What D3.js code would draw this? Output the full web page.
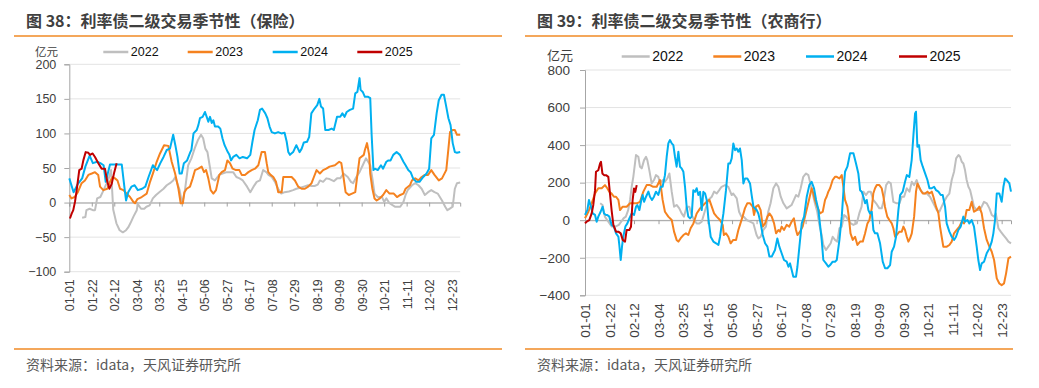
<!DOCTYPE html>
<html>
<head>
<meta charset="utf-8">
<script src="https://cdn.jsdelivr.net/npm/d3@7"></script>
<style>
body { margin: 0; background: #fff; }
svg text { font-family: "Liberation Sans", Arial, "Noto Sans CJK SC", sans-serif; }
</style>
</head>
<body>
<svg id="chart" width="1039" height="388"></svg>
<script>
// x axis: day of year (leap-year calendar), labels every 21 days
var dateLabels = ["01-01","01-22","02-12","03-04","03-25","04-15","05-06","05-27","06-17",
                  "07-08","07-29","08-19","09-09","09-30","10-21","11-11","12-02","12-23"];
var labelDays = [0,21,42,63,84,105,126,147,168,189,210,231,252,273,294,315,336,357];
var years = ["2022","2023","2024","2025"];

// 保险 (亿元), [day, value]
var ins2022 = [[12,-22],[15,-21],[16,-11],[19,-9],[22,-11],[24,-11],[26,6],[29,8],[32,18],[34,25],[36,30],[39,47],[41,-10],[44,-30],[47,-40],[50,-43],[53,-40],[55,-36],[57,-30],[60,-20],[63,-11],[64,-2],[67,-9],[70,-9],[72,-6],[75,-4],[78,6],[81,11],[84,15],[88,20],[91,25],[94,28],[97,32],[99,37],[100,32],[103,18],[105,1],[106,3],[108,18],[111,54],[114,64],[117,78],[120,90],[123,98],[125,93],[127,78],[129,73],[131,54],[133,35],[136,32],[140,40],[143,42],[147,44],[150,44],[153,44],[156,37],[159,35],[162,32],[166,23],[169,15],[172,23],[175,30],[178,32],[181,47],[184,44],[186,40],[189,37],[192,30],[195,20],[198,13],[201,15],[205,16],[209,18],[212,20],[215,21],[219,23],[223,25],[226,24],[229,24],[232,26],[234,32],[237,30],[240,35],[243,34],[247,31],[250,35],[253,35],[256,42],[260,37],[263,30],[265,28],[268,37],[271,44],[274,54],[277,64],[279,59],[281,54],[283,35],[285,13],[288,8],[292,8],[294,1],[296,6],[299,-1],[304,-6],[309,-6],[312,1],[314,11],[316,18],[320,25],[323,28],[326,25],[329,20],[332,11],[335,15],[338,18],[341,15],[344,13],[348,3],[351,-6],[353,-11],[355,-9],[358,-6],[360,20],[362,28],[365,29]];
var ins2023 = [[0,11],[2,6],[5,8],[8,15],[11.5,28],[14.6,32],[17.8,40],[21,42],[24,44],[27,40],[28.7,23],[31.8,18],[35.5,20],[38,30],[40.5,37],[42.7,35],[45,32],[47.4,20],[50.5,18],[53.6,13],[56.7,8],[59.8,1],[61.4,-1],[63.6,5],[67.6,8],[72.3,13],[75.4,30],[78.5,44],[81.6,59],[84.7,71],[88.5,83],[92.5,82],[95.6,59],[98.8,42],[101.9,20],[104,-1],[106,-1],[107.5,15],[109.6,20],[112.7,23],[115.2,35],[117.4,47],[120.5,49],[123.6,52],[125.8,44],[127.7,47],[129.8,35],[132,18],[134.5,13],[137,18],[140.1,40],[142.3,44],[145.4,47],[147.6,61],[150,57],[152.5,49],[155.6,47],[158.8,47],[161,40],[164,40],[167.2,44],[170.3,47],[173.4,49],[176.5,54],[179.6,73],[182.7,73],[184.3,57],[185.8,44],[188,40],[190.5,37],[193,30],[195.1,15],[198.3,15],[199.8,37],[202.9,37],[207.6,37],[210.7,32],[213.8,23],[216.9,20],[220,20],[223.1,23],[226.2,28],[228.4,37],[230.9,47],[234,42],[237,47],[240,49],[243,52],[248,54],[252,59],[254,57],[256,37],[258,15],[261,11],[264,13],[267,15],[269,40],[271,64],[275,69],[276,76],[278,86],[280,69],[281,42],[283,20],[285,6],[287,3],[290,6],[293,11],[296,18],[299,13],[303,13],[306,8],[309,11],[312,13],[314,20],[318,25],[320,32],[323,35],[326,32],[329,37],[332,40],[335,40],[338,47],[341,40],[345,32],[348,35],[351,44],[352,47],[354,78],[355.5,102],[358,105],[360,105],[362,98],[365,98]];
var ins2024 = [[0,35],[4,15],[8,27],[12,35],[15,52],[19,68],[22,57],[26,59],[29,57],[32,54],[34,30],[38,55],[49,55],[52,15],[53,3],[55,15],[58,23],[61,25],[64,18],[68,20],[71,23],[74,37],[78,54],[82,47],[85,57],[88,66],[91,76],[94,78],[97,98],[99,83],[101,66],[103,42],[105,42],[107,57],[110,61],[113,73],[114,76],[116,100],[119,105],[120.5,112],[122,122],[124.5,124],[126.7,131],[128.3,124],[129.8,117],[131.4,124],[133,115],[134.5,119],[136,110],[139,110],[141,107],[143,93],[145,83],[148,73],[149.5,69],[151,61],[153,66],[156,69],[159,64],[162,66],[166,64],[169,69],[171,88],[173,105],[176,119],[178,134],[180,136],[183,129],[185,122],[187,110],[189,102],[192,100],[195,102],[198,100],[201,101],[203,88],[204.5,73],[206,69],[209,73],[212,83],[215,73],[217,78],[219,87],[222,88],[224,95],[226,129],[229,136],[231.5,141],[233.5,150],[235,139],[237,136],[239,105],[242,105],[245,107],[247,105],[250,124],[253,124],[255,129],[257,124],[259,131],[262,134],[265,136],[267,158],[269,160],[271,180],[272,163],[274,160],[276,153],[279,153],[281,151],[282.3,98],[284,47],[285.4,49],[288,47],[291,54],[293,49],[296,59],[298,61],[300,61],[302.5,69],[305.6,73],[308.7,69],[312,59],[314,54],[316.5,47],[318.7,44],[321,35],[324,30],[327,30],[330.5,37],[333.6,42],[336,49],[338,93],[340.5,98],[343,129],[345,148],[347.6,156],[349.8,156],[351.7,141],[354,122],[356,112],[358,86],[360,73],[362,72],[365,73]];
var ins2025 = [[0.6,-23],[2.2,-16],[3.7,-11],[5.3,1],[6.9,18],[9.3,47],[11.5,49],[13.1,61],[15.3,73],[17.8,72],[19.3,69],[21.8,71],[24,66],[27.1,57],[30.2,49],[33.3,49],[35.5,30],[37.4,20],[39.6,27],[42,44],[44.2,57]];

// 农商行 (亿元), [day, value]
var rc2022 = [[13,90],[15,81],[17,19],[20,-8],[23,-34],[26,-34],[29,-25],[31,-8],[33,10],[35,19],[37,54],[38.6,108],[40,178],[41.4,231],[43.7,347],[45.7,338],[47.1,285],[48.6,276],[50.6,320],[52.3,338],[53.4,320],[55.1,267],[57.1,196],[59.1,214],[60.8,240],[62.8,231],[64.3,196],[66.5,214],[68.5,205],[70.5,222],[72.3,249],[74.3,152],[76.3,72],[78.5,81],[80.8,63],[82.8,36],[84.8,19],[87.1,72],[89.4,72],[91.4,28],[93.4,1],[95.7,-17],[98,-17],[100,-8],[103,54],[105.7,108],[108.6,125],[110.6,152],[112.8,142],[115,160],[117,178],[120,187],[122.8,178],[125.7,134],[127,142],[130,116],[132,45],[134,19],[136,19],[138.5,1],[141.4,-8],[144.3,-17],[147,-79],[148.5,-97],[150.5,-88],[152.8,-52],[155,-34],[157,45],[159,90],[161.4,170],[163.7,196],[165.7,178],[167.7,125],[170,90],[172.8,63],[175,72],[177,81],[179,108],[180.8,134],[182.8,125],[184.8,170],[187,231],[189.4,249],[191.4,240],[193.4,187],[195,142],[197,90],[199,45],[200.8,-25],[202.8,-79],[204.2,-132],[206.5,-159],[208.5,-141],[210.5,-123],[212.2,-88],[214.2,-105],[216.2,-114],[218,-43],[220,-34],[222,28],[223.7,19],[225.7,1],[227.7,-17],[230,-25],[232.8,-17],[235,36],[237,72],[238.5,152],[240.8,134],[242.8,152],[244.8,152],[247,108],[249.4,90],[252.2,63],[254.2,63],[255.7,98],[258,187],[260,205],[262,196],[264.2,98],[267.1,90],[269.4,90],[271.4,125],[273.4,125],[275.7,170],[278,152],[280,205],[282,187],[284.2,214],[286.5,170],[288.5,152],[290.5,142],[292.8,142],[295.6,125],[298.5,90],[301.4,54],[303.6,45],[305.6,72],[307.6,98],[310,125],[312.2,142],[314.2,214],[316.2,258],[318,329],[320,347],[321.4,338],[322.8,311],[324.2,302],[325.6,267],[327,214],[328.5,178],[330,160],[331.3,125],[333.3,72],[335.6,54],[337.9,54],[339.9,72],[341.9,98],[344.2,90],[346.5,63],[348.5,28],[350.5,19],[352,36],[354.2,-43],[356.2,-61],[358.5,-79],[360.8,-97],[362.8,-114],[365,-123]];
var rc2023 = [[0,10],[2.9,45],[5.7,90],[8.6,142],[11.4,170],[14.3,170],[17.1,187],[19.1,170],[20.8,152],[22.8,142],[24.8,125],[26.6,125],[28.6,108],[30,54],[32.3,72],[35.7,72],[38.6,90],[41.4,90],[44.3,90],[47.1,98],[50,152],[52.8,187],[55.7,187],[58.5,178],[61.4,178],[64.3,214],[66.5,108],[68.5,45],[71.4,19],[74.3,1],[76.3,-61],[78.5,-105],[80,-114],[82,-96],[84.3,-79],[86.5,-70],[88.5,-79],[90.5,-43],[92.9,-17],[95.7,36],[98.6,63],[101.4,81],[104.3,98],[106.6,108],[108.6,72],[110.6,36],[112.8,19],[115.7,1],[118,-25],[119,-79],[120.8,-70],[122.8,-88],[124.8,-123],[127,-105],[129.4,-105],[131.4,-52],[132.8,-25],[135,19],[137,63],[139,90],[141.4,90],[143.7,72],[144.8,28],[146.5,72],[148.5,81],[150.5,54],[152.3,-34],[154.3,-17],[156.3,19],[158,36],[160,19],[162,-17],[163.7,-70],[165.7,-52],[167,-61],[168.5,-34],[170.5,-52],[172.8,-25],[175,-34],[177,-8],[179,10],[180.8,-52],[182,-79],[184.2,-61],[186.5,-34],[188.5,19],[190.5,72],[192.2,116],[194.2,170],[195.7,142],[197,108],[199,72],[201.4,36],[203.7,45],[205.7,108],[207,125],[208.5,152],[210,170],[212.2,214],[214.2,231],[215.7,231],[218,222],[220,240],[221.4,178],[222.8,108],[224.8,72],[226,19],[227.5,-70],[229.4,-105],[231.4,-88],[233.4,-132],[235.7,-114],[238,-114],[240,-70],[242,-17],[243.7,1],[245.7,63],[247,142],[248.5,170],[250,187],[252.2,187],[254.2,170],[255.7,125],[257,72],[259,19],[260.8,1],[262.8,-17],[264.2,-43],[265.7,-88],[267,-79],[269.4,-61],[271.4,-61],[272.8,-34],[274.2,-52],[275.7,-88],[277.1,-114],[278.5,-97],[280,-70],[282,19],[283.6,152],[284.8,196],[286.2,178],[287.6,160],[289.4,142],[291.4,142],[293.4,152],[295.1,142],[297.1,152],[298.5,125],[300.8,72],[302.8,36],[304.2,-34],[305.6,-88],[307,-141],[310,-141],[312.2,-132],[314.2,-114],[316.2,-70],[318.5,-52],[320.8,-34],[322.8,-8],[324.8,-17],[327,54],[329.3,54],[331.3,98],[333.3,45],[335.6,54],[337.9,72],[339.9,36],[341.9,-43],[344.2,-105],[346.5,-141],[348.5,-168],[350.5,-212],[352.8,-310],[355,-337],[357,-346],[359,-337],[360.8,-283],[362.8,-203],[365,-194]];
var rc2024 = [[0,28],[2,54],[3.4,108],[5.1,72],[6.6,36],[8.6,28],[10,-8],[11.4,19],[13.4,45],[15.1,72],[16.3,36],[18,28],[19.1,28],[20.8,19],[22.8,-25],[24.8,-34],[26.6,-70],[28.6,-88],[29.4,-132],[30.6,-212],[31.7,-141],[32.8,-88],[34.6,-34],[36.3,-17],[38,10],[40,36],[42,28],[43.7,72],[44.8,81],[46.6,54],[48.3,108],[49.4,134],[50.6,98],[52.3,125],[54.3,152],[55.7,125],[57.4,108],[59.1,125],[60.8,152],[62.8,134],[64.8,178],[66.5,178],[68.5,240],[70,338],[71.4,409],[72.8,427],[74.3,409],[75.7,400],[77.1,338],[78.5,285],[80,365],[81.4,285],[82.8,276],[84.3,258],[85.7,178],[87.1,72],[88.5,19],[90,10],[91.4,19],[92.8,160],[94.3,151],[95.7,170],[97.1,134],[98.6,151],[100,54],[101.4,151],[102.9,142],[104.3,108],[105.7,10],[107.7,-88],[110,-114],[112.3,-123],[114.3,-132],[115.7,-88],[117.1,-25],[118.6,36],[120.8,160],[122.8,302],[124.3,302],[125.7,329],[127.1,409],[128.6,373],[130,382],[131.4,365],[132.8,382],[134.3,320],[135.7,196],[137.1,222],[139.1,222],[141.4,196],[142.8,134],[144.3,72],[147.1,54],[148.5,36],[150.5,-17],[152.3,-79],[154.3,-123],[156.3,-141],[158,-194],[160,-194],[161.4,-176],[162.8,-159],[164.8,-97],[166.5,-141],[168.5,-176],[170.5,-212],[172.8,-221],[174.3,-248],[175.7,-230],[177.1,-265],[178.5,-301],[180.8,-301],[182,-248],[183.7,-141],[185.7,-17],[187.7,19],[190,125],[192.2,187],[194.2,205],[196.2,170],[198,108],[200,54],[201.4,-25],[202.8,-105],[204.2,-212],[206.5,-230],[208.5,-248],[210,-239],[212.2,-221],[214.2,-221],[215.7,-212],[218,-105],[220,19],[221.4,152],[222.8,258],[224.8,285],[227.1,356],[230,356],[232.2,302],[234.2,249],[235.7,160],[237.1,152],[238.5,125],[240,90],[241.4,108],[242.8,54],[244.2,36],[245.7,45],[247.1,-52],[248.5,-70],[250.5,-70],[252.8,-123],[255.1,-221],[257.1,-256],[259.1,-256],[261.4,-239],[262.8,-168],[264.8,-141],[266.5,-88],[268.5,54],[270,134],[272.2,152],[274.2,205],[275.7,240],[277.9,231],[279.9,320],[281.4,453],[282.8,569],[283.6,578],[284.8,391],[286.2,400],[287.6,320],[289.4,285],[291.4,249],[293.4,214],[295.1,170],[297.1,170],[299.1,178],[300.8,160],[302.8,152],[304.8,134],[306.5,134],[308.5,72],[309.9,-17],[312.2,-61],[314.2,-88],[316.2,-105],[317.9,-88],[319.9,-52],[321.9,-34],[324.2,19],[325.6,-8],[327.6,1],[329.3,-17],[331.3,1],[333.3,-34],[335.6,-141],[337,-212],[338.5,-265],[339.9,-230],[341.9,-221],[344.2,-176],[346.5,-150],[348.5,-114],[349.9,-70],[351.3,1],[352.8,142],[355,142],[357,98],[358.5,178],[359.9,222],[361.3,214],[363.6,196],[365,152]];
var rc2025 = [[0,-17],[1.4,-8],[3.7,0],[5.7,36],[7.1,81],[8.6,160],[9.4,258],[11.4,266],[12.9,302],[13.7,311],[14.9,249],[16.3,240],[18,240],[20,231],[21.4,142],[22.8,53],[24.3,-25],[26.6,-61],[28.6,-61],[30.6,-70],[32.3,-105],[34.3,-114],[35.7,-52],[38,-52],[39.4,-35],[40.8,107],[42,169],[43.1,151],[44.3,187]];

var colors = ["#bfbfbf", "#f5821f", "#00b0f0", "#c00000"];
var svg = d3.select("#chart");
svg.append("rect").attr("width", 1039).attr("height", 388).attr("fill", "#fff");

function drawPanel(p) {
    var g = svg.append("g");

    // header / footer
    g.append("text").attr("x", p.titleX).attr("y", 27)
        .style("font-family", "'Noto Sans CJK SC', sans-serif").style("font-weight", "bold")
        .style("font-size", "16px").attr("fill", "#404040").text(p.title);
    g.append("line").attr("x1", p.x0).attr("x2", p.x1).attr("y1", 36).attr("y2", 36)
        .attr("stroke", "#f08a24").attr("stroke-width", 1.5);
    g.append("line").attr("x1", p.x0).attr("x2", p.x1).attr("y1", 349).attr("y2", 349)
        .attr("stroke", "#f08a24").attr("stroke-width", 1.5);
    g.append("text").attr("x", p.titleX).attr("y", 370)
        .style("font-family", "'Noto Sans CJK SC', sans-serif")
        .style("font-size", "14px").attr("fill", "#595959").text("资料来源：idata，天风证券研究所");

    var x = d3.scaleLinear().domain([0, 365]).range([p.left, p.right]);
    var y = d3.scaleLinear().domain(p.yDomain).range([p.bottom, p.top]);

    // gridlines
    g.selectAll(".grid").data(p.yTicks).enter().append("line")
        .attr("x1", p.left).attr("x2", p.right)
        .attr("y1", function (d) { return y(d); }).attr("y2", function (d) { return y(d); })
        .attr("stroke", "#e3e3e3").attr("stroke-width", 1);

    // y axis
    var yAxis = d3.axisLeft(y).tickValues(p.yTicks).tickSize(5).tickPadding(p.yPad);
    var ya = g.append("g").attr("transform", "translate(" + p.left + ",0)").call(yAxis);
    ya.select(".domain").attr("stroke", "#a6a6a6");
    ya.selectAll(".tick line").attr("stroke", "#a6a6a6");
    ya.selectAll("text").style("font-size", p.font + "px").attr("fill", "#404040");

    // zero line with ticks
    var xAxis0 = d3.axisBottom(x).tickValues(labelDays).tickSize(4).tickFormat("");
    var xa = g.append("g").attr("transform", "translate(0," + y(0) + ")").call(xAxis0);
    xa.select(".domain").attr("stroke", "#a0a0a0");
    xa.selectAll(".tick line").attr("stroke", "#a0a0a0");

    // rotated date labels under the plot
    var xAxisB = d3.axisBottom(x).tickValues(labelDays).tickSize(0)
        .tickFormat(function (d, i) { return dateLabels[i]; });
    var xb = g.append("g").attr("transform", "translate(0," + p.bottom + ")").call(xAxisB);
    xb.select(".domain").remove();
    xb.selectAll("text").attr("transform", "rotate(-90)").attr("x", -p.xPad).attr("y", 0)
        .attr("dy", "0.35em").style("text-anchor", "end")
        .style("font-size", p.font + "px").attr("fill", "#404040");

    // unit
    g.append("text").attr("x", p.unitX).attr("y", p.unitY).attr("dy", "0.35em")
        .style("font-family", "'Noto Sans CJK SC', sans-serif")
        .style("font-size", p.unitFont + "px").attr("fill", "#404040").text("亿元");

    // series
    var line = d3.line().x(function (d) { return x(d[0]); }).y(function (d) { return y(d[1]); });
    p.series.forEach(function (s, i) {
        g.append("path").datum(s).attr("d", line).attr("fill", "none")
            .attr("stroke", colors[i]).attr("stroke-width", 2).attr("stroke-linejoin", "round");
    });

    // legend
    years.forEach(function (yr, i) {
        var lx = p.legendX[i];
        g.append("line").attr("x1", lx).attr("x2", lx + p.legendLen)
            .attr("y1", p.legendY).attr("y2", p.legendY)
            .attr("stroke", colors[i]).attr("stroke-width", 2.5);
        g.append("text").attr("x", lx + p.legendLen + 2.5).attr("y", p.legendY).attr("dy", "0.35em")
            .style("font-size", p.legendFont + "px").attr("fill", "#111").text(yr);
    });
}

drawPanel({
    title: "图 38：利率债二级交易季节性（保险）", titleX: 26, x0: 14, x1: 502,
    left: 69.3, right: 460.2, top: 64.3, bottom: 271.7,
    yDomain: [-100, 200], yTicks: [-100, -50, 0, 50, 100, 150, 200],
    font: 12.5, yPad: 8, xPad: 7.5,
    unitX: 35, unitY: 52, unitFont: 11.5,
    legendX: [103.3, 187.7, 272.7, 357.3], legendLen: 25, legendY: 52, legendFont: 12.5,
    series: [ins2022, ins2023, ins2024, ins2025]
});

drawPanel({
    title: "图 39：利率债二级交易季节性（农商行）", titleX: 537, x0: 525, x1: 1013,
    left: 585, right: 1011, top: 70, bottom: 295.3,
    yDomain: [-400, 800], yTicks: [-400, -200, 0, 200, 400, 600, 800],
    font: 13.5, yPad: 10, xPad: 8,
    unitX: 547, unitY: 55, unitFont: 13,
    legendX: [621.7, 713.3, 806, 899], legendLen: 28, legendY: 56.5, legendFont: 14,
    series: [rc2022, rc2023, rc2024, rc2025]
});
</script>
</body>
</html>
